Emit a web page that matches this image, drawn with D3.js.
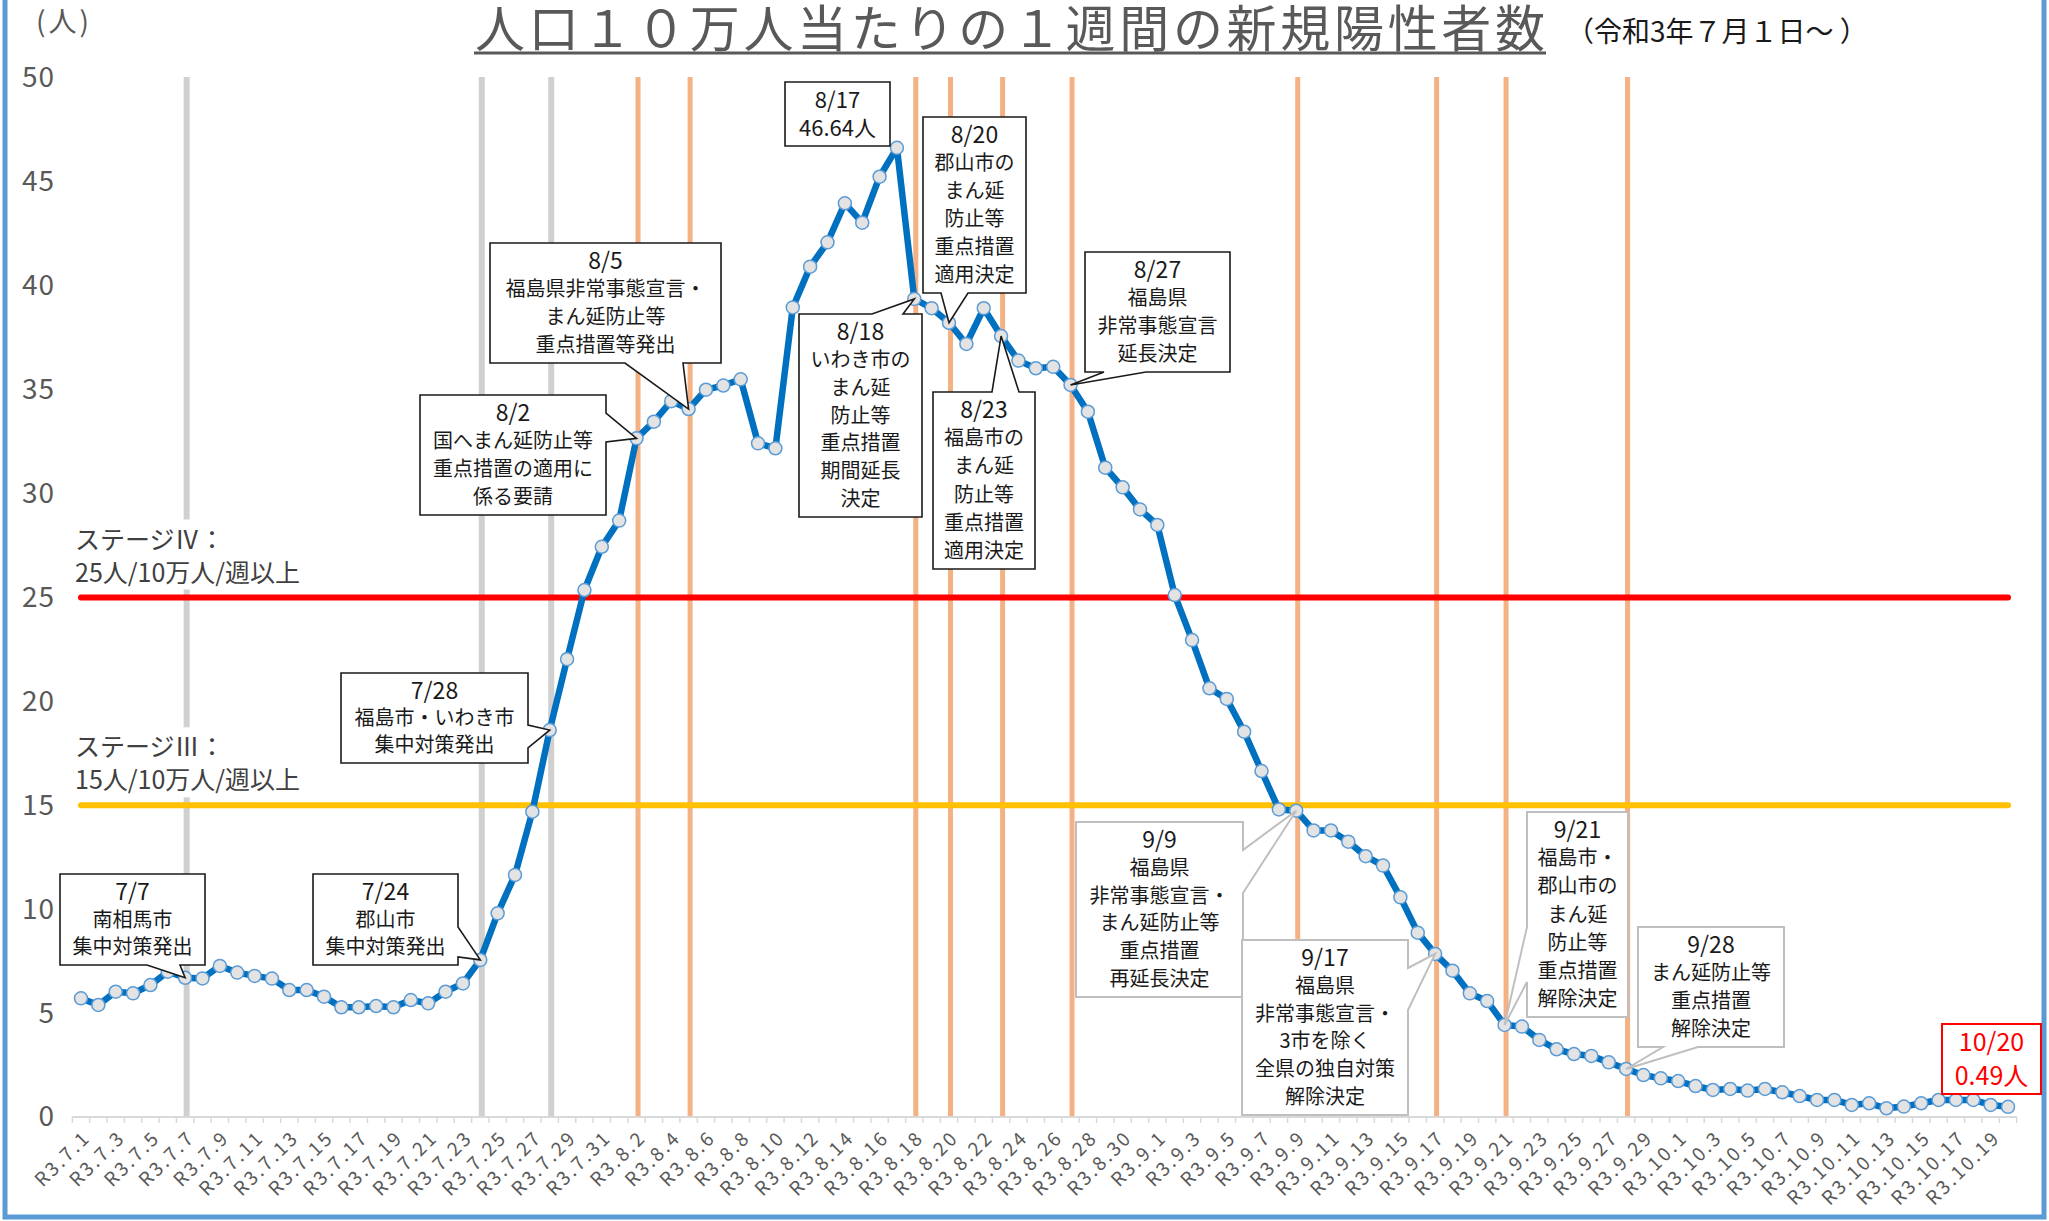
<!DOCTYPE html>
<html>
<head>
<meta charset="utf-8">
<script src="https://cdn.jsdelivr.net/npm/d3@7"></script>
<style>
	body { margin: 0; background: #fff; }
	svg { display: block; }
	text { font-family: "Noto Sans CJK JP", "Noto Sans", sans-serif; }
</style>
</head>
<body>
<svg id="chart" width="2049" height="1221"></svg>
<script>
'use strict';

// values per 100k people / week (R3.7.1 - R3.10.20)
var julValues = [5.71, 5.39, 6.03, 5.95, 6.35, 6.99, 6.70, 6.67, 7.27, 6.95,
	6.79, 6.66, 6.11, 6.11, 5.79, 5.28, 5.28, 5.34, 5.28, 5.63,
	5.47, 6.03, 6.43, 7.56, 9.80, 11.65, 14.69, 18.62, 22.03, 25.36, 27.44];
var augValues = [28.70, 32.66, 33.46, 34.45, 34.07, 35.00, 35.20, 35.50, 32.42, 32.18,
	38.96, 40.92, 42.09, 43.97, 43.04, 45.25, 46.64, 39.37, 38.92, 38.22,
	37.20, 38.92, 37.58, 36.40, 36.03, 36.10, 35.23, 33.94, 31.25, 30.30, 29.24];
var sepValues = [28.49, 25.12, 22.95, 20.63, 20.12, 18.54, 16.65, 14.80, 14.74, 13.79,
	13.79, 13.25, 12.55, 12.10, 10.57, 8.87, 7.85, 7.04, 5.95, 5.58,
	4.43, 4.35, 3.71, 3.26, 3.03, 2.94, 2.63, 2.31, 2.02, 1.86];
var octValues = [1.73, 1.49, 1.30, 1.35, 1.27, 1.35, 1.19, 1.01, 0.82, 0.82,
	0.58, 0.66, 0.42, 0.50, 0.66, 0.82, 0.82, 0.82, 0.58, 0.49];

var firstDay = new Date(2021, 6, 1);
var lastDay = new Date(2021, 9, 20);
var yTicks = [0, 5, 10, 15, 20, 25, 30, 35, 40, 45, 50];

// event markers
var grayEvents = ['7/7', '7/24', '7/28'];
var orangeEvents = ['8/2', '8/5', '8/18', '8/20', '8/23', '8/27', '9/9', '9/17', '9/21', '9/28'];

// stage thresholds
var stageLevels = [25, 15];
var stageTexts = [['ステージⅣ：', '25人/10万人/週以上'], ['ステージⅢ：', '15人/10万人/週以上']];

// callout texts
var noteDates = ['7/7', '7/24', '7/28', '8/2', '8/5', '8/17', '8/18', '8/20', '8/23', '8/27', '9/9', '9/17', '9/21', '9/28', '10/20'];
var noteLines = [
	['7/7', '南相馬市', '集中対策発出'],
	['7/24', '郡山市', '集中対策発出'],
	['7/28', '福島市・いわき市', '集中対策発出'],
	['8/2', '国へまん延防止等', '重点措置の適用に', '係る要請'],
	['8/5', '福島県非常事態宣言・', 'まん延防止等', '重点措置等発出'],
	['8/17', '46.64人'],
	['8/18', 'いわき市の', 'まん延', '防止等', '重点措置', '期間延長', '決定'],
	['8/20', '郡山市の', 'まん延', '防止等', '重点措置', '適用決定'],
	['8/23', '福島市の', 'まん延', '防止等', '重点措置', '適用決定'],
	['8/27', '福島県', '非常事態宣言', '延長決定'],
	['9/9', '福島県', '非常事態宣言・', 'まん延防止等', '重点措置', '再延長決定'],
	['9/17', '福島県', '非常事態宣言・', '3市を除く', '全県の独自対策', '解除決定'],
	['9/21', '福島市・', '郡山市の', 'まん延', '防止等', '重点措置', '解除決定'],
	['9/28', 'まん延防止等', '重点措置', '解除決定'],
	['10/20', '0.49人']
];

// callout box layout (position / pointer edge)
var noteBoxes = {
	'7/7':   {x: 60,   y: 874, w: 145, h: 91,  side: 'bottom', base: [147, 180]},
	'7/24':  {x: 313,  y: 874, w: 145, h: 91,  side: 'right',  base: [927, 957]},
	'7/28':  {x: 341,  y: 673, w: 187, h: 90,  side: 'right',  base: [725, 748]},
	'8/2':   {x: 420,  y: 395, w: 186, h: 120, side: 'right',  base: [413, 442]},
	'8/5':   {x: 490,  y: 243, w: 231, h: 120, side: 'bottom', base: [625, 683]},
	'8/17':  {x: 785,  y: 82,  w: 105, h: 64,  side: null, same: true},
	'8/18':  {x: 799,  y: 314, w: 123, h: 203, side: 'top',    base: [872, 903]},
	'8/20':  {x: 923,  y: 117, w: 103, h: 176, side: 'bottom', base: [941, 968]},
	'8/23':  {x: 933,  y: 392, w: 102, h: 177, side: 'top',    base: [992, 1019]},
	'8/27':  {x: 1085, y: 252, w: 145, h: 120, side: 'bottom', base: [1104, 1146]},
	'9/9':   {x: 1076, y: 822, w: 167, h: 175, side: 'right',  base: [850, 893], light: true},
	'9/17':  {x: 1242, y: 940, w: 166, h: 175, side: 'right',  base: [968, 1010], light: true},
	'9/21':  {x: 1527, y: 812, w: 101, h: 205, side: 'left',   base: [927, 982], light: true},
	'9/28':  {x: 1638, y: 927, w: 146, h: 120, side: 'bottom', base: [1663, 1698], light: true},
	'10/20': {x: 1942, y: 1024, w: 99, h: 70,  side: null, same: true, red: true}
};

var svg = d3.select('#chart');
var values = julValues.concat(augValues, sepValues, octValues);
var days = d3.timeDay.range(firstDay, d3.timeDay.offset(lastDay, 1));
var keys = days.map(function(d){ return (d.getMonth() + 1) + '/' + d.getDate(); });
var labels = days.map(function(d){ return 'R3.' + (d.getMonth() + 1) + '.' + d.getDate(); });
var data = keys.map(function(k, i){ return {key: k, value: values[i]}; });

// scales
var x = d3.scaleBand().domain(keys).range([72.3, 2016.7]).paddingInner(0).paddingOuter(0);
var y = d3.scaleLinear().domain([0, 50]).range([1117, 78]);
var cx = function(k){ return x(k) + x.bandwidth() / 2; };
var valueOf = {};
data.forEach(function(d){ valueOf[d.key] = d.value; });

// outer frame
svg.append('rect')
	.attr('x', 5).attr('y', -10).attr('width', 2039).attr('height', 1227)
	.attr('fill', 'none').attr('stroke', '#5b9bd5').attr('stroke-width', 5);

// title
svg.append('text')
	.attr('x', 1010).attr('y', 47)
	.attr('text-anchor', 'middle')
	.attr('font-size', 50).attr('fill', '#595959')
	.attr('textLength', 1070)
	.text('人口１０万人当たりの１週間の新規陽性者数');
svg.append('line')
	.attr('x1', 474).attr('x2', 1546).attr('y1', 53).attr('y2', 53)
	.attr('stroke', '#595959').attr('stroke-width', 3);
svg.append('text')
	.attr('x', 1566).attr('y', 42)
	.attr('font-size', 28).attr('fill', '#1a1a1a')
	.text('（令和3年７月１日～ ）');
svg.append('text')
	.attr('x', 36).attr('y', 32)
	.attr('font-size', 28).attr('letter-spacing', 3).attr('fill', '#595959')
	.text('(人)');

// y axis
var yAxis = d3.axisLeft(y).tickValues(yTicks).tickSize(0).tickPadding(0);
svg.append('g')
	.attr('transform', 'translate(55,0)')
	.call(yAxis)
	.call(function(g){ g.select('.domain').remove(); })
	.selectAll('text')
	.attr('font-family', '"Noto Sans", sans-serif')
	.attr('font-size', 28).attr('letter-spacing', 1).attr('fill', '#595959');

// event lines
svg.append('g').selectAll('line')
	.data(grayEvents)
	.enter().append('line')
	.attr('x1', function(d){ return cx(d) + 1.5; })
	.attr('x2', function(d){ return cx(d) + 1.5; })
	.attr('y1', y(50) - 1).attr('y2', y(0))
	.attr('stroke', '#d0d0d0').attr('stroke-width', 6);
svg.append('g').selectAll('line')
	.data(orangeEvents)
	.enter().append('line')
	.attr('x1', function(d){ return cx(d) + 1.5; })
	.attr('x2', function(d){ return cx(d) + 1.5; })
	.attr('y1', y(50) - 1).attr('y2', y(0))
	.attr('stroke', '#f4b183').attr('stroke-width', 5);

// stage labels (white textbox)
var stageG = svg.append('g');
stageLevels.forEach(function(lv, i){
	var top = y(lv) - 78;
	stageG.append('rect')
		.attr('x', 70).attr('y', top).attr('width', 260).attr('height', 70)
		.attr('fill', '#fff');
	stageG.selectAll(null)
		.data(stageTexts[i])
		.enter().append('text')
		.attr('x', 75)
		.attr('y', function(d, j){ return top + 29 + j * 33; })
		.attr('font-size', 25).attr('fill', '#404040')
		.text(function(d){ return d; });
});

// threshold lines
svg.append('g').selectAll('line')
	.data(stageLevels)
	.enter().append('line')
	.attr('x1', cx(keys[0])).attr('x2', cx(keys[keys.length - 1]))
	.attr('y1', function(d){ return y(d); })
	.attr('y2', function(d){ return y(d); })
	.attr('stroke', function(d, i){ return i === 0 ? '#ff0000' : '#ffc000'; })
	.attr('stroke-width', 6).attr('stroke-linecap', 'round');

// x axis line + ticks at category boundaries
var step = x.step();
svg.append('line')
	.attr('x1', x.range()[0]).attr('x2', x.range()[1])
	.attr('y1', y(0)).attr('y2', y(0))
	.attr('stroke', '#d9d9d9').attr('stroke-width', 2);
svg.append('g').selectAll('line')
	.data(d3.range(keys.length + 1))
	.enter().append('line')
	.attr('x1', function(i){ return x.range()[0] + i * step; })
	.attr('x2', function(i){ return x.range()[0] + i * step; })
	.attr('y1', y(0)).attr('y2', y(0) + 6)
	.attr('stroke', '#d9d9d9').attr('stroke-width', 1.5);

var xAxis = d3.axisBottom(x)
	.tickValues(keys.filter(function(k, i){ return i % 2 === 0; }))
	.tickSize(0)
	.tickFormat(function(k){ return labels[keys.indexOf(k)]; });
svg.append('g')
	.attr('transform', 'translate(0,' + y(0) + ')')
	.call(xAxis)
	.call(function(g){ g.select('.domain').remove(); })
	.selectAll('text')
	.attr('x', 0).attr('y', 0).attr('dy', '0.35em')
	.attr('text-anchor', 'end')
	.attr('transform', 'translate(6,17) rotate(-45)')
	.attr('font-family', '"Noto Sans", sans-serif')
	.attr('font-size', 19).attr('letter-spacing', 2.5)
	.attr('fill', '#595959');

// data line
var line = d3.line()
	.x(function(d){ return cx(d.key); })
	.y(function(d){ return y(d.value); });
svg.append('path')
	.datum(data)
	.attr('d', line)
	.attr('fill', 'none')
	.attr('stroke', '#0070c0').attr('stroke-width', 6.5)
	.attr('stroke-linejoin', 'round');
svg.append('g').selectAll('circle')
	.data(data)
	.enter().append('circle')
	.attr('cx', function(d){ return cx(d.key); })
	.attr('cy', function(d){ return y(d.value); })
	.attr('r', 6.5)
	.attr('fill', '#e3e3e3')
	.attr('stroke', '#5b9bd5').attr('stroke-width', 1.5);

/**
 * callout outline: rectangle with a wedge pointing at tip
 */
var calloutPath = function(b, tip){
	var x0 = b.x, y0 = b.y, x1 = b.x + b.w, y1 = b.y + b.h;
	var p = [[x0, y0]];
	if (b.side === 'top') p.push([b.base[0], y0], tip, [b.base[1], y0]);
	p.push([x1, y0]);
	if (b.side === 'right') p.push([x1, b.base[0]], tip, [x1, b.base[1]]);
	p.push([x1, y1]);
	if (b.side === 'bottom') p.push([b.base[1], y1], tip, [b.base[0], y1]);
	p.push([x0, y1]);
	if (b.side === 'left') p.push([x0, b.base[1]], tip, [x0, b.base[0]]);
	return 'M' + p.map(function(q){ return q[0] + ',' + q[1]; }).join('L') + 'Z';
};

var notesG = svg.append('g');
noteDates.forEach(function(k, i){
	var b = noteBoxes[k];
	var tip = [cx(k), y(valueOf[k])];
	var stroke = b.red ? '#ff0000' : (b.light ? '#bfbfbf' : '#1a1a1a');
	var color = b.red ? '#ff0000' : '#1a1a1a';
	notesG.append('path')
		.attr('d', calloutPath(b, tip))
		.attr('fill', '#fff')
		.attr('stroke', stroke)
		.attr('stroke-width', b.light || b.red ? 2 : 1.6)
		.attr('stroke-linejoin', 'miter');
	var lines = noteLines[i];
	var gap = lines.length > 1 ? (b.h - 36) / (lines.length - 1) : 0;
	notesG.selectAll(null)
		.data(lines)
		.enter().append('text')
		.attr('x', b.x + b.w / 2)
		.attr('y', function(d, j){ return b.y + 18 + j * gap; })
		.attr('dy', '0.35em')
		.attr('text-anchor', 'middle')
		.attr('font-size', function(d, j){
			if (b.red) return 25;
			if (b.same) return 22;
			return j === 0 ? 23 : 20;
		})
		.attr('fill', color)
		.text(function(d){ return d; });
});
</script>
</body>
</html>
